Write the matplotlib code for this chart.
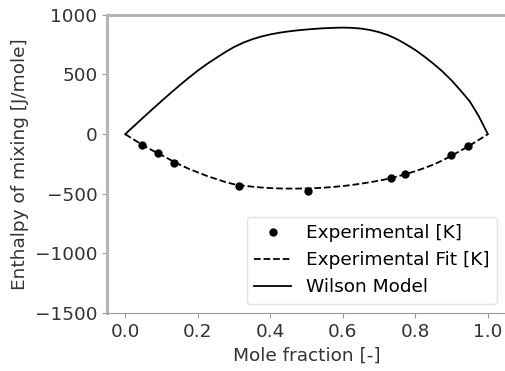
import numpy as np
import matplotlib
matplotlib.use("Agg")
import matplotlib.pyplot as plt

# Experimental points
x_exp = [0.046, 0.091, 0.134, 0.315, 0.505, 0.732, 0.772, 0.897, 0.945]
h_exp = [-89, -162, -242, -432, -474, -365, -332, -173, -103]

# Curves read every 0.025 in mole fraction
x_curve = [0.0, 0.025, 0.05, 0.075, 0.1, 0.125, 0.15, 0.175, 0.2, 0.225,
           0.25, 0.275, 0.3, 0.325, 0.35, 0.375, 0.4, 0.425, 0.45, 0.475,
           0.5, 0.525, 0.55, 0.575, 0.6, 0.625, 0.65, 0.675, 0.7, 0.725,
           0.75, 0.775, 0.8, 0.825, 0.85, 0.875, 0.9, 0.925, 0.95, 0.975, 1.0]
h_fit = [0, -48, -95, -136, -175, -216, -255, -290, -320, -350,
         -375, -400, -420, -431, -440, -447, -452, -455, -456, -456,
         -455, -452, -448, -442, -435, -426, -415, -403, -390, -374,
         -355, -334, -310, -284, -255, -220, -180, -138, -95, -48, 0]
h_wilson = [0, 70, 140, 209, 277, 344, 409, 472, 532, 587,
            637, 686, 730, 766, 795, 818, 836, 850, 861, 870,
            877, 883, 888, 891, 893, 891, 885, 873, 855, 830,
            795, 752, 705, 650, 590, 525, 450, 365, 275, 150, 0]

plt.rcParams['font.size'] = 13.3

fig = plt.figure(figsize=(5.05, 3.71), dpi=100)
ax = fig.add_axes([0.212, 0.156, 0.79, 0.804])

ax.plot(x_exp, h_exp, 'ko', markersize=5, label='Experimental [K]')
ax.plot(x_curve, h_fit, 'k--', lw=1.3, label='Experimental Fit [K]')
ax.plot(x_curve, h_wilson, 'k-', lw=1.3, label='Wilson Model')

ax.set_xlim(-0.05, 1.05)
ax.set_ylim(-1500, 1000)
ax.set_xticks(np.arange(0, 1.01, 0.2))
ax.set_yticks(np.arange(-1500, 1001, 500))
ax.set_xlabel('Mole fraction [-]', color='#333333')
ax.set_ylabel('Enthalpy of mixing [J/mole]', color='#333333')

for side in ['left', 'top']:
    ax.spines[side].set_color('#b5b5b5')
    ax.spines[side].set_linewidth(2.2)
ax.spines['bottom'].set_color('#999999')
ax.spines['right'].set_visible(False)  # cropped off in the reference
ax.tick_params(colors='#333333')
ax.tick_params(axis='both', color='#999999')

ax.legend(loc='lower right', framealpha=1, edgecolor='#e3e3e3', fancybox=True)

fig.savefig('out.png', dpi=100)
